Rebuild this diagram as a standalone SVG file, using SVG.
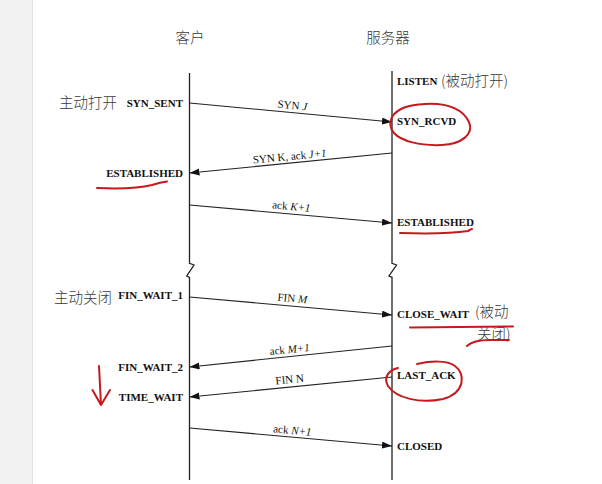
<svg xmlns="http://www.w3.org/2000/svg" width="602" height="484" viewBox="0 0 602 484">
<style>
.cjk{font-family:"Noto Sans CJK SC","Noto Sans",sans-serif;font-size:14.5px;fill:#3a3a3a;font-weight:300}
.st{font-family:"Liberation Serif",serif;font-size:11px;fill:#111;font-weight:bold}
.msg{font-family:"Liberation Serif",serif;font-size:11px;fill:#111;text-anchor:middle}
.it{font-style:italic}
.life{stroke:#222;stroke-width:1.3;fill:none}
.arr{stroke:#222;stroke-width:1.1;fill:none;marker-end:url(#ah)}
.red{stroke:#c41a1e;stroke-width:2;fill:none;stroke-linecap:round;stroke-linejoin:round}
</style>
<defs>
<marker id="ah" markerUnits="userSpaceOnUse" markerWidth="11" markerHeight="8" refX="10" refY="3.5" orient="auto">
<path d="M0,0 L10,3.5 L0,7 z" fill="#111"/>
</marker>
</defs>
<rect x="0" y="0" width="602" height="484" fill="#fff"/>
<rect x="0" y="0" width="32.5" height="484" fill="#f2f2f2"/>
<line x1="32.5" y1="0" x2="32.5" y2="484" stroke="#e2e2e2" stroke-width="1"/>

<g id="client">
<text class="cjk" x="190" y="43" text-anchor="middle">客户</text>
<path class="life" d="M189.5,73 V263.3 L194,265 L186.7,276 L189.5,277.3 V480"/>
</g>
<g id="server">
<text class="cjk" x="388" y="43" text-anchor="middle">服务器</text>
<path class="life" d="M392,71 V263.3 L396.5,265 L389,276 L392,277.3 V480"/>
</g>

<g id="client-states">
<text class="cjk" x="59" y="108">主动打开</text>
<text class="st" x="183" y="107" text-anchor="end">SYN_SENT</text>
<text class="st" x="183" y="177" text-anchor="end">ESTABLISHED</text>
<text class="cjk" x="54" y="303">主动关闭</text>
<text class="st" x="183" y="299" text-anchor="end">FIN_WAIT_1</text>
<text class="st" x="183" y="371" text-anchor="end">FIN_WAIT_2</text>
<text class="st" x="183" y="401" text-anchor="end">TIME_WAIT</text>
</g>
<g id="server-states">
<text class="st" x="397" y="85">LISTEN</text>
<text class="cjk" x="441" y="86">(被动打开)</text>
<text class="st" x="397" y="125">SYN_RCVD</text>
<text class="st" x="397" y="226">ESTABLISHED</text>
<text class="st" x="397" y="318">CLOSE_WAIT</text>
<text class="cjk" x="475" y="317">(被动</text>
<text class="cjk" x="477" y="339">关闭)</text>
<text class="st" x="397" y="379">LAST_ACK</text>
<text class="st" x="397" y="450">CLOSED</text>
</g>

<g id="connectors">
<line class="arr" x1="189.5" y1="103" x2="392" y2="122"/>
<line class="arr" x1="392" y1="153" x2="189.5" y2="173"/>
<line class="arr" x1="189.5" y1="205" x2="392" y2="223"/>
<line class="arr" x1="189.5" y1="297" x2="392" y2="315"/>
<line class="arr" x1="392" y1="346" x2="189.5" y2="367"/>
<line class="arr" x1="392" y1="377" x2="189.5" y2="397"/>
<line class="arr" x1="189.5" y1="428" x2="392" y2="446"/>
<text class="msg" x="292" y="109" transform="rotate(5.4 292 109)">SYN <tspan class="it">J</tspan></text>
<text class="msg" x="290" y="160" transform="rotate(-5.6 290 160)">SYN K, ack <tspan class="it">J+1</tspan></text>
<text class="msg" x="291" y="210" transform="rotate(5.1 291 210)">ack <tspan class="it">K+1</tspan></text>
<text class="msg" x="292" y="302" transform="rotate(5.1 292 302)">FIN <tspan class="it">M</tspan></text>
<text class="msg" x="290" y="353" transform="rotate(-5.9 290 353)">ack <tspan class="it">M+1</tspan></text>
<text class="msg" x="290" y="383" transform="rotate(-5.6 290 383)">FIN N</text>
<text class="msg" x="292" y="434" transform="rotate(5.1 292 434)">ack <tspan class="it">N+1</tspan></text>
</g>

<g id="annotations">
<path class="red" d="M392,117 C398,108 408,105 425,104 C445,103 462,108 469,122 C474,134 462,144 442,145 C420,146 401,141 394,133 C389,127 390,121 392,117"/>
<path class="red" d="M97,188 C120,189 140,188 152,185 C158,183 162,182 167,181.5"/>
<path class="red" d="M400,233 C430,234 455,233 468,231 C470,230 471,229 472,229"/>
<path class="red" d="M410,327.5 C450,327 490,326.5 513,326.5"/>
<path class="red" d="M467,346 C472,341 480,340 490,340 C498,340 504,340 509,340"/>
<path class="red" d="M417,364 C430,361 448,360 455,366 C466,374 465,393 443,399 C420,404 396,398 388,386 C383,377 389,370 398,368"/>
<path class="red" d="M99,366 L101,405 M92.5,390 L101,405 L110,390"/>
</g>
</svg>
